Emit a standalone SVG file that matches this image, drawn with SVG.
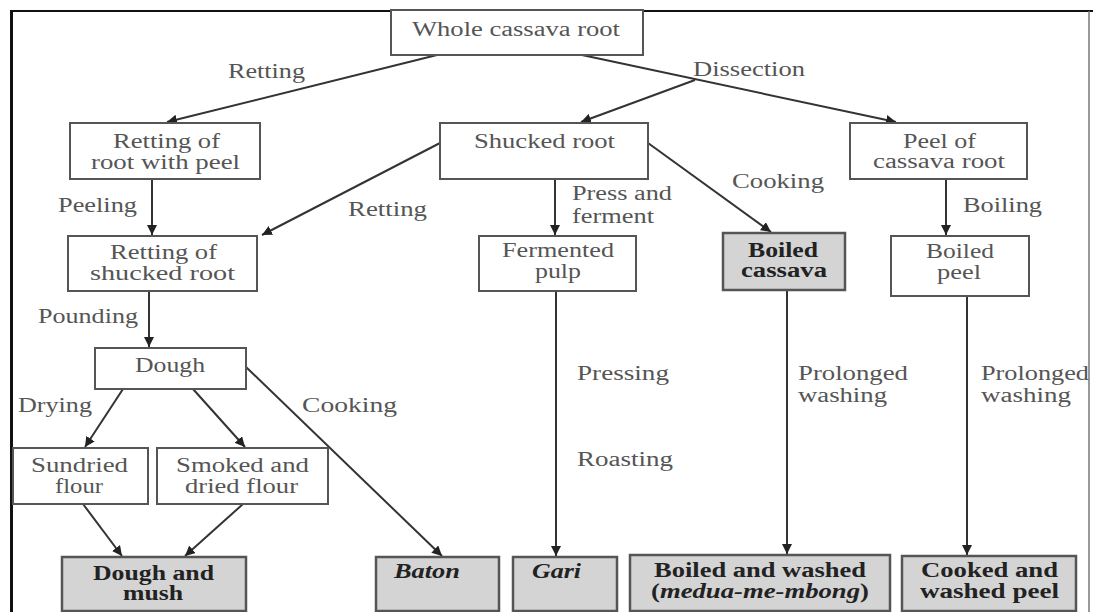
<svg xmlns="http://www.w3.org/2000/svg" width="1093" height="612" viewBox="0 0 1093 612">
<style>
.box{fill:#fff;stroke:#555;stroke-width:2}
.term{fill:#d4d4d4;stroke:#555;stroke-width:2.5}
.t{font-family:"Liberation Serif","Times New Roman",serif;font-size:20px;fill:#555}
.b{font-family:"Liberation Serif","Times New Roman",serif;font-size:20px;fill:#222;font-weight:bold}
.bi{font-style:italic}
.lbl{font-family:"Liberation Serif","Times New Roman",serif;font-size:20px;fill:#555}
.c{fill:none;stroke:#333;stroke-width:2;marker-end:url(#ah)}
.cn{fill:none;stroke:#333;stroke-width:2}
</style>
<defs>
<marker id="ah" markerUnits="userSpaceOnUse" markerWidth="10" markerHeight="10" refX="10" refY="5" orient="auto" viewBox="0 0 10 10">
<path d="M0,0 L10,5 L0,10 z" fill="#222"/>
</marker>
</defs>
<rect width="1093" height="612" fill="#fff"/>
<g id="frame">
<line x1="10" y1="11" x2="1093" y2="11" stroke="#111" stroke-width="2"/>
<line x1="11.5" y1="10" x2="11.5" y2="612" stroke="#111" stroke-width="3"/>
<line x1="1089" y1="11" x2="1089" y2="612" stroke="#777" stroke-width="1.5"/>
</g>
<g id="connectors">
<line class="c" x1="437" y1="55" x2="167" y2="122"/>
<line class="c" x1="582" y1="55" x2="896" y2="122"/>
<line class="c" x1="695" y1="80" x2="581" y2="122"/>
<line class="c" x1="152" y1="179" x2="152" y2="235"/>
<line class="c" x1="440" y1="143" x2="262" y2="235"/>
<line class="c" x1="555" y1="179" x2="555" y2="235"/>
<line class="c" x1="648" y1="143" x2="771" y2="232"/>
<line class="c" x1="946" y1="179" x2="946" y2="235"/>
<line class="c" x1="149" y1="291" x2="149" y2="347"/>
<line class="c" x1="123" y1="389" x2="85" y2="447"/>
<line class="c" x1="193" y1="389" x2="245" y2="447"/>
<line class="c" x1="246" y1="367" x2="442" y2="556"/>
<line class="c" x1="83" y1="504" x2="122" y2="556"/>
<line class="c" x1="243" y1="504" x2="185" y2="556"/>
<line class="c" x1="556" y1="291" x2="556" y2="556"/>
<line class="c" x1="787" y1="290" x2="787" y2="554"/>
<line class="c" x1="967" y1="296" x2="967" y2="555"/>
</g>
<g id="labels">
<text class="lbl" x="228" y="78" textLength="77" lengthAdjust="spacingAndGlyphs">Retting</text>
<text class="lbl" x="693" y="76" textLength="112" lengthAdjust="spacingAndGlyphs">Dissection</text>
<text class="lbl" x="58" y="212" textLength="79" lengthAdjust="spacingAndGlyphs">Peeling</text>
<text class="lbl" x="348" y="216" textLength="79" lengthAdjust="spacingAndGlyphs">Retting</text>
<text class="lbl" x="572" y="200" textLength="100" lengthAdjust="spacingAndGlyphs">Press and</text>
<text class="lbl" x="572" y="223" textLength="82" lengthAdjust="spacingAndGlyphs">ferment</text>
<text class="lbl" x="732" y="188" textLength="92" lengthAdjust="spacingAndGlyphs">Cooking</text>
<text class="lbl" x="963" y="212" textLength="79" lengthAdjust="spacingAndGlyphs">Boiling</text>
<text class="lbl" x="38" y="323" textLength="100" lengthAdjust="spacingAndGlyphs">Pounding</text>
<text class="lbl" x="18" y="412" textLength="74" lengthAdjust="spacingAndGlyphs">Drying</text>
<text class="lbl" x="302" y="412" textLength="95" lengthAdjust="spacingAndGlyphs">Cooking</text>
<text class="lbl" x="577" y="380" textLength="92" lengthAdjust="spacingAndGlyphs">Pressing</text>
<text class="lbl" x="577" y="466" textLength="96" lengthAdjust="spacingAndGlyphs">Roasting</text>
<text class="lbl" x="798" y="380" textLength="110" lengthAdjust="spacingAndGlyphs">Prolonged</text>
<text class="lbl" x="798" y="402" textLength="89" lengthAdjust="spacingAndGlyphs">washing</text>
<text class="lbl" x="981" y="380" textLength="108" lengthAdjust="spacingAndGlyphs">Prolonged</text>
<text class="lbl" x="981" y="402" textLength="90" lengthAdjust="spacingAndGlyphs">washing</text>
</g>
<g id="whole">
<rect class="box" x="391" y="10" width="252" height="45"/>
<text class="t" x="412" y="36" textLength="208" lengthAdjust="spacingAndGlyphs">Whole cassava root</text>
</g>
<g id="retting-peel">
<rect class="box" x="70" y="123" width="190" height="56"/>
<text class="t" x="113" y="148" textLength="107" lengthAdjust="spacingAndGlyphs">Retting of</text>
<text class="t" x="91" y="169" textLength="149" lengthAdjust="spacingAndGlyphs">root with peel</text>
</g>
<g id="shucked">
<rect class="box" x="440" y="123" width="208" height="56"/>
<text class="t" x="474" y="148" textLength="141" lengthAdjust="spacingAndGlyphs">Shucked root</text>
</g>
<g id="peel">
<rect class="box" x="850" y="123" width="177" height="56"/>
<text class="t" x="903" y="148" textLength="73" lengthAdjust="spacingAndGlyphs">Peel of</text>
<text class="t" x="873" y="168" textLength="132" lengthAdjust="spacingAndGlyphs">cassava root</text>
</g>
<g id="retting-shucked">
<rect class="box" x="68" y="236" width="189" height="55"/>
<text class="t" x="110" y="259" textLength="107" lengthAdjust="spacingAndGlyphs">Retting of</text>
<text class="t" x="90" y="280" textLength="145" lengthAdjust="spacingAndGlyphs">shucked root</text>
</g>
<g id="fermented">
<rect class="box" x="479" y="236" width="157" height="55"/>
<text class="t" x="502" y="257" textLength="112" lengthAdjust="spacingAndGlyphs">Fermented</text>
<text class="t" x="535" y="278" textLength="46" lengthAdjust="spacingAndGlyphs">pulp</text>
</g>
<g id="boiled-cassava">
<rect class="term" x="723" y="233" width="122" height="57"/>
<text class="b" x="748" y="257" textLength="70" lengthAdjust="spacingAndGlyphs">Boiled</text>
<text class="b" x="741" y="277" textLength="86" lengthAdjust="spacingAndGlyphs">cassava</text>
</g>
<g id="boiled-peel">
<rect class="box" x="891" y="236" width="138" height="60"/>
<text class="t" x="926" y="258" textLength="68" lengthAdjust="spacingAndGlyphs">Boiled</text>
<text class="t" x="937" y="279" textLength="44" lengthAdjust="spacingAndGlyphs">peel</text>
</g>
<g id="dough">
<rect class="box" x="95" y="348" width="151" height="41"/>
<text class="t" x="135" y="372" textLength="70" lengthAdjust="spacingAndGlyphs">Dough</text>
</g>
<g id="sundried">
<rect class="box" x="13" y="448" width="135" height="56"/>
<text class="t" x="31" y="472" textLength="97" lengthAdjust="spacingAndGlyphs">Sundried</text>
<text class="t" x="55" y="493" textLength="48" lengthAdjust="spacingAndGlyphs">flour</text>
</g>
<g id="smoked">
<rect class="box" x="157" y="448" width="171" height="56"/>
<text class="t" x="176" y="472" textLength="133" lengthAdjust="spacingAndGlyphs">Smoked and</text>
<text class="t" x="185" y="493" textLength="113" lengthAdjust="spacingAndGlyphs">dried flour</text>
</g>
<g id="dough-mush">
<rect class="term" x="62" y="557" width="184" height="54"/>
<text class="b" x="93" y="580" textLength="121" lengthAdjust="spacingAndGlyphs">Dough and</text>
<text class="b" x="123" y="600" textLength="60" lengthAdjust="spacingAndGlyphs">mush</text>
</g>
<g id="baton">
<rect class="term" x="376" y="557" width="123" height="54"/>
<text class="b bi" x="394" y="578" textLength="66" lengthAdjust="spacingAndGlyphs">Baton</text>
</g>
<g id="gari">
<rect class="term" x="513" y="557" width="104" height="54"/>
<text class="b bi" x="532" y="578" textLength="49" lengthAdjust="spacingAndGlyphs">Gari</text>
</g>
<g id="boiled-washed">
<rect class="term" x="630" y="555" width="260" height="56"/>
<text class="b" x="654" y="577" textLength="212" lengthAdjust="spacingAndGlyphs">Boiled and washed</text>
<text class="b" x="651" y="598" textLength="218" lengthAdjust="spacingAndGlyphs">(<tspan class="bi">medua-me-mbong</tspan>)</text>
</g>
<g id="cooked-peel">
<rect class="term" x="902" y="556" width="174" height="55"/>
<text class="b" x="921" y="577" textLength="137" lengthAdjust="spacingAndGlyphs">Cooked and</text>
<text class="b" x="920" y="598" textLength="139" lengthAdjust="spacingAndGlyphs">washed peel</text>
</g>
</svg>
